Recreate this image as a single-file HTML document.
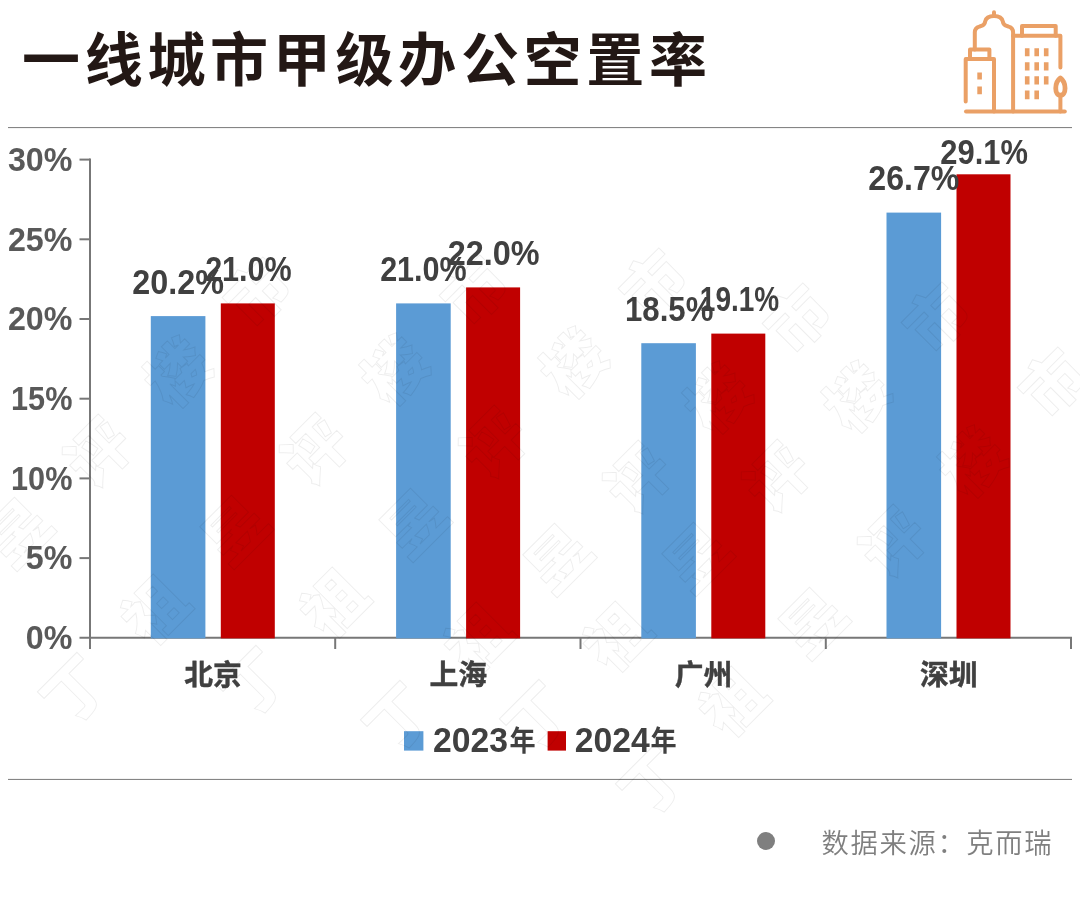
<!DOCTYPE html>
<html lang="zh-CN"><head><meta charset="utf-8"><title>一线城市甲级办公空置率</title>
<style>html,body{margin:0;padding:0;background:#fff;}body{width:1080px;height:899px;overflow:hidden;font-family:"Liberation Sans","Noto Sans CJK SC",sans-serif;}svg{display:block;}text{font-family:"Liberation Sans","Noto Sans CJK SC",sans-serif;}</style>
</head><body>
<svg width="1080" height="899" viewBox="0 0 1080 899">
<rect width="1080" height="899" fill="#ffffff"/>
<text x="22" y="81" font-size="58" font-weight="700" fill="#231815" letter-spacing="4.7">一线城市甲级办公空置率</text>
<rect x="8" y="127" width="1064" height="1.1" fill="#858585"/>
<rect x="8" y="778.9" width="1064" height="1.1" fill="#858585"/>
<g stroke="#777777" stroke-width="2" fill="none">
<line x1="90.0" y1="158.6" x2="90.0" y2="649"/>
<line x1="79.5" y1="637.8" x2="1072" y2="637.8"/>
<line x1="79.5" y1="558.1" x2="90.0" y2="558.1"/>
<line x1="79.5" y1="478.4" x2="90.0" y2="478.4"/>
<line x1="79.5" y1="398.7" x2="90.0" y2="398.7"/>
<line x1="79.5" y1="319.0" x2="90.0" y2="319.0"/>
<line x1="79.5" y1="239.3" x2="90.0" y2="239.3"/>
<line x1="79.5" y1="159.6" x2="90.0" y2="159.6"/>
<line x1="335.2" y1="637.8" x2="335.2" y2="649"/>
<line x1="580.5" y1="637.8" x2="580.5" y2="649"/>
<line x1="825.8" y1="637.8" x2="825.8" y2="649"/>
<line x1="1071.0" y1="637.8" x2="1071.0" y2="649"/>
</g>
<rect x="150.8" y="316.1" width="54.6" height="322.3" fill="#5b9bd5"/>
<rect x="220.8" y="303.4" width="54.0" height="335.0" fill="#c00000"/>
<rect x="396.1" y="303.4" width="54.6" height="335.0" fill="#5b9bd5"/>
<rect x="466.1" y="287.4" width="54.0" height="351.0" fill="#c00000"/>
<rect x="641.3" y="343.2" width="54.6" height="295.2" fill="#5b9bd5"/>
<rect x="711.3" y="333.6" width="54.0" height="304.8" fill="#c00000"/>
<rect x="886.5" y="212.6" width="54.6" height="425.8" fill="#5b9bd5"/>
<rect x="956.5" y="174.3" width="54.0" height="464.1" fill="#c00000"/>
<g font-size="32.2" font-weight="700" fill="#595959" text-anchor="end">
<text transform="translate(72.4,649.1) scale(1.000,1.06)">0%</text>
<text transform="translate(72.4,569.4) scale(1.000,1.06)">5%</text>
<text transform="translate(72.4,489.7) scale(0.952,1.06)">10%</text>
<text transform="translate(72.4,410.0) scale(0.952,1.06)">15%</text>
<text transform="translate(72.4,330.3) scale(1.000,1.06)">20%</text>
<text transform="translate(72.4,250.6) scale(1.000,1.06)">25%</text>
<text transform="translate(72.4,170.9) scale(1.000,1.06)">30%</text>
</g>
<g font-size="32.3" font-weight="700" fill="#404040" text-anchor="middle">
<text transform="translate(178.1,293.9) scale(1.001,1.06)">20.2%</text>
<text transform="translate(248.4,281.2) scale(0.945,1.06)">21.0%</text>
<text transform="translate(423.4,281.2) scale(0.945,1.06)">21.0%</text>
<text transform="translate(493.7,265.2) scale(1.002,1.06)">22.0%</text>
<text transform="translate(669.2,321.0) scale(0.965,1.06)">18.5%</text>
<text transform="translate(739.5,311.4) scale(0.866,1.06)">19.1%</text>
<text transform="translate(913.8,190.4) scale(0.995,1.06)">26.7%</text>
<text transform="translate(984.1,163.8) scale(0.956,1.06)">29.1%</text>
</g>
<g font-size="28.8" font-weight="700" fill="#404040" stroke="#404040" stroke-width="0.4" text-anchor="middle">
<text x="213.0" y="684.5">北京</text>
<text x="458.2" y="684.5">上海</text>
<text x="703.5" y="684.5">广州</text>
<text x="948.8" y="684.5">深圳</text>
</g>
<rect x="404" y="731.2" width="19.4" height="19.4" fill="#5b9bd5"/>
<rect x="547.6" y="731.2" width="18.4" height="19.4" fill="#c00000"/>
<g font-weight="700" fill="#404040">
<text transform="translate(433,752.3) scale(1,1.05)" font-size="33.7">2023</text>
<text transform="translate(509.6,751.2) scale(0.95,1.03)" font-size="27.5">年</text>
<text transform="translate(574.8,752.3) scale(1,1.05)" font-size="33.7">2024</text>
<text transform="translate(650.6,751.2) scale(0.95,1.03)" font-size="27.5">年</text>
</g>
<circle cx="766" cy="841" r="9" fill="#7f7f7f"/>
<text x="821.4" y="852.6" font-size="27.3" font-weight="350" fill="#7f7f7f" letter-spacing="1.7">数据来源：克而瑞</text>
<g fill="none" stroke="#eaa066" stroke-width="4" stroke-linecap="round" stroke-linejoin="round">
<path d="M966,111.4 H1064.8"/>
<path d="M965.7,101.6 V59 H994 V111.4"/>
<path d="M970,59 V49.6 H989.4 V59"/>
<path d="M974.8,49.6 V32.4 Q974.8,28 979.35,26.7 L982.7,25.35 Q984.8,24.5 985.2,21.35 Q986.4,16 994,16 Q1001.6,16 1002.8,21.35 Q1003.2,24.5 1005.3,25.35 L1008.65,26.7 Q1013.1,28 1013.1,32.4 V111.4"/>
<path d="M994,16 V12.2"/>
<path d="M1013,35.8 H1060.4 V67.4"/>
<path d="M1022,35.8 V26 H1055.7 V35.8"/>
<path stroke-width="4.8" d="M1060.4,78 C1066.6,82.5 1066.6,95.2 1060.4,95.2 C1054.2,95.2 1054.2,82.5 1060.4,78 Z"/>
<path d="M1060.4,95.4 V111.4"/>
</g>
<g fill="none" stroke="#eaa066" stroke-width="4.6" stroke-linecap="butt">
<path d="M979.6,72.6 V79.6 M979.6,86.6 V94.2"/>
<path d="M1027.2,48.2 V56.2 M1036.7,48.2 V56.2 M1046.2,48.2 V56.2"/>
<path d="M1027.2,62.2 V70.6 M1036.7,62.2 V70.6 M1046.2,62.2 V70.6"/>
<path d="M1027.2,76.2 V84.6 M1036.7,76.2 V84.6 M1046.2,76.2 V84.6"/>
<path d="M1027.2,90.6 V99.2 M1036.7,90.6 V99.2"/>
</g>
<g font-size="62" font-weight="900" fill="none" stroke="#000000" stroke-opacity="0.07" stroke-width="1" letter-spacing="51">
<text transform="translate(-147.3,730.5) rotate(-45)">丁祖昱评楼市</text>
<text transform="translate(69.7,728.5) rotate(-45)">丁祖昱评楼市</text>
<text transform="translate(248.7,721.5) rotate(-45)">丁祖昱评楼市</text>
<text transform="translate(392.7,756.5) rotate(-45)">丁祖昱评楼市</text>
<text transform="translate(531.7,755.5) rotate(-45)">丁祖昱评楼市</text>
<text transform="translate(647.7,820.5) rotate(-45)">丁祖昱评楼市</text>
</g>
</svg>
</body></html>
